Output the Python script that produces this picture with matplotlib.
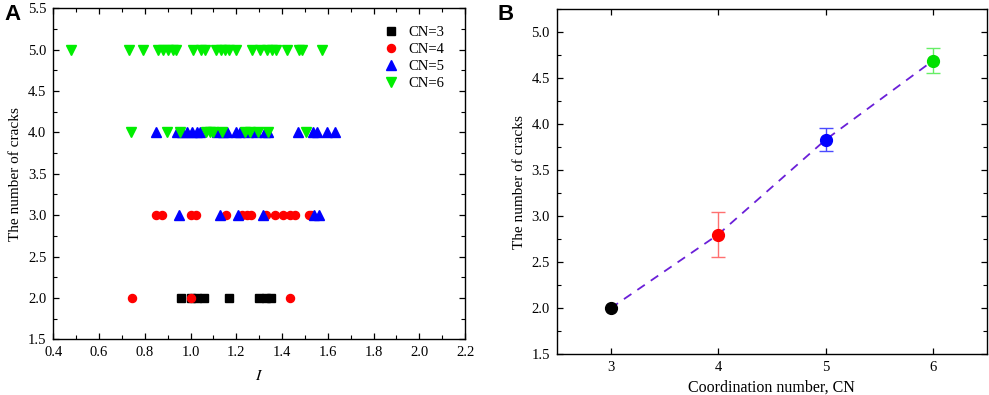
import matplotlib
matplotlib.use("Agg")
import matplotlib.pyplot as plt
from matplotlib.ticker import MultipleLocator, FormatStrFormatter, NullLocator

plt.rcParams['font.family'] = ['Liberation Serif', 'DejaVu Serif']
plt.rcParams['mathtext.fontset'] = 'stix'

# Panel A data: I values per coordination number and crack count
cn3_I = [0.96, 1.00, 1.03, 1.06, 1.17, 1.30, 1.33, 1.35]
cn3_n = [2, 2, 2, 2, 2, 2, 2, 2]

cn4_I = [0.743, 1.00, 1.434,
         0.851, 0.876, 1.00, 1.025, 1.155, 1.223, 1.245, 1.264, 1.332, 1.37,
         1.406, 1.435, 1.455, 1.517, 1.528]
cn4_n = [2, 2, 2,
         3, 3, 3, 3, 3, 3, 3, 3, 3, 3,
         3, 3, 3, 3, 3]

cn5_I = [0.95, 1.13, 1.206, 1.318, 1.539, 1.561,
         0.849, 0.94, 0.962, 0.984, 1.005, 1.027, 1.041, 1.115, 1.143, 1.158,
         1.20, 1.215, 1.25, 1.288, 1.325, 1.34, 1.471, 1.537, 1.552, 1.595, 1.632]
cn5_n = [3, 3, 3, 3, 3, 3,
         4, 4, 4, 4, 4, 4, 4, 4, 4, 4,
         4, 4, 4, 4, 4, 4, 4, 4, 4, 4, 4]

cn6_I = [0.74, 0.896, 0.954, 1.068, 1.085, 1.10, 1.136, 1.238, 1.26, 1.296, 1.337, 1.505,
         0.478, 0.73, 0.793, 0.858, 0.88, 0.902, 0.923, 0.935, 1.01, 1.047, 1.061,
         1.112, 1.133, 1.152, 1.17, 1.199, 1.268, 1.304, 1.333, 1.355, 1.373, 1.42,
         1.474, 1.489, 1.573]
cn6_n = [4] * 12 + [5] * 25

# Panel B data
cn_values = [3, 4, 5, 6]
mean_cracks = [2.0, 2.8, 3.83, 4.69]
err_cracks = [0.0, 0.245, 0.125, 0.135]
point_colors = ['#000000', '#ff0000', '#0000ff', '#00e000']
err_colors = ['#000000', '#ff7070', '#4a4aff', '#66ee66']

fig = plt.figure(figsize=(9.89, 3.95), dpi=100)
axA = fig.add_axes([0.0539, 0.141, 0.4163, 0.838])
axB = fig.add_axes([0.563, 0.103, 0.4347, 0.874])

ms = 5.5
axA.plot(cn3_I, cn3_n, 's', color='black', ms=ms, ls='none', label='CN=3')
axA.plot(cn4_I, cn4_n, 'o', color='#ff0000', ms=ms + 0.3, ls='none', label='CN=4')
axA.plot(cn5_I, cn5_n, '^', color='#0000ff', ms=ms + 1, ls='none', label='CN=5')
axA.plot(cn6_I, cn6_n, 'v', color='#00ee00', ms=ms + 1, ls='none', label='CN=6')
axA.set_xlim(0.4, 2.2)
axA.set_ylim(1.5, 5.5)
axA.xaxis.set_major_locator(MultipleLocator(0.2))
axA.xaxis.set_minor_locator(MultipleLocator(0.1))
axA.yaxis.set_major_locator(MultipleLocator(0.5))
axA.yaxis.set_minor_locator(MultipleLocator(0.25))
axA.xaxis.set_major_formatter(FormatStrFormatter('%.1f'))
axA.yaxis.set_major_formatter(FormatStrFormatter('%.1f'))
axA.set_xlabel(r'$I$', fontsize=11.5, labelpad=6)
axA.set_ylabel('The number of cracks', fontsize=11)
leg = axA.legend(loc='upper right', frameon=False, fontsize=10.5,
                 handletextpad=0.4, labelspacing=0.25, borderaxespad=0.6,
                 handlelength=1.6, bbox_to_anchor=(0.985, 0.99))

axB.plot(cn_values, mean_cracks, ls=(0, (5, 4)), color='#6a1fd8', lw=1.3, zorder=2)
for x, y, e, c, ec in zip(cn_values, mean_cracks, err_cracks, point_colors, err_colors):
    if e > 0:
        axB.errorbar([x], [y], yerr=[e], fmt='none', ecolor=ec, elinewidth=1.0,
                     capsize=5, capthick=1.0, zorder=3)
    axB.plot([x], [y], 'o', color=c, ms=8.5, zorder=4)
axB.set_xlim(2.5, 6.5)
axB.set_ylim(1.5, 5.25)
axB.xaxis.set_major_locator(MultipleLocator(1))
axB.xaxis.set_minor_locator(NullLocator())
axB.yaxis.set_major_locator(MultipleLocator(0.5))
axB.yaxis.set_minor_locator(MultipleLocator(0.25))
axB.yaxis.set_major_formatter(FormatStrFormatter('%.1f'))
axB.set_xlabel('Coordination number, CN', fontsize=11.5, labelpad=4)
axB.set_ylabel('The number of cracks', fontsize=11)

for ax in (axA, axB):
    ax.tick_params(which='both', direction='in', top=True, right=True, labelsize=10.5)
    ax.tick_params(which='major', length=4.5, width=0.9, pad=5)
    ax.tick_params(which='minor', length=2.8, width=0.8)
    for s in ax.spines.values():
        s.set_linewidth(1.0)

fig.text(0.004, 0.99, 'A', fontsize=16, fontweight='bold', family='Liberation Sans',
         va='top', ha='left')
fig.text(0.503, 0.99, 'B', fontsize=16, fontweight='bold', family='Liberation Sans',
         va='top', ha='left')

fig.savefig('out.png', dpi=100)
